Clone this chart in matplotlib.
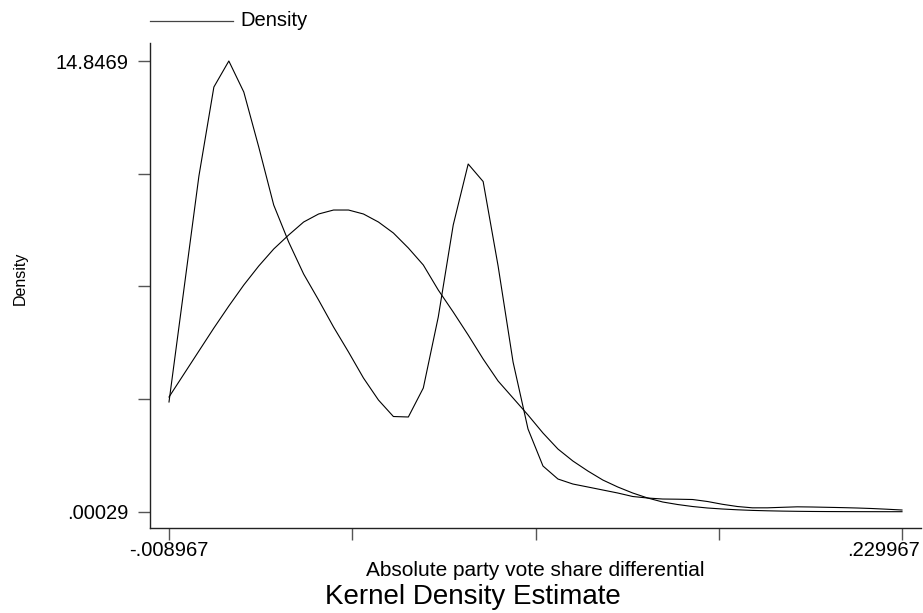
import numpy as np
import matplotlib
matplotlib.use("Agg")
import matplotlib.pyplot as plt
import matplotlib.transforms as mtransforms
from matplotlib.lines import Line2D

plt.rcParams['font.family'] = ['Liberation Sans', 'DejaVu Sans']

# kdensity evaluation grid (50 points)
x_grid = [-0.008967, -0.004091, 0.000785, 0.005662, 0.010538, 0.015414, 0.020290,
          0.025166, 0.030043, 0.034919, 0.039795, 0.044671, 0.049547, 0.054424,
          0.059300, 0.064176, 0.069052, 0.073928, 0.078805, 0.083681, 0.088557,
          0.093433, 0.098309, 0.103186, 0.108062, 0.112938, 0.117814, 0.122690,
          0.127567, 0.132443, 0.137319, 0.142195, 0.147071, 0.151948, 0.156824,
          0.161700, 0.166576, 0.171452, 0.176329, 0.181205, 0.186081, 0.190957,
          0.195833, 0.200710, 0.205586, 0.210462, 0.215338, 0.220214, 0.225091,
          0.229967]

# kernel density estimate
kdens = [3.614, 7.336, 11.058, 13.990, 14.8469, 13.825, 12.013, 10.103, 8.884, 7.830,
         6.974, 6.084, 5.261, 4.404, 3.680, 3.136, 3.120, 4.075, 6.414, 9.444,
         11.454, 10.877, 8.094, 4.931, 2.724, 1.505, 1.077, 0.912, 0.814, 0.715,
         0.616, 0.501, 0.451, 0.418, 0.412, 0.402, 0.336, 0.244, 0.171, 0.128,
         0.128, 0.145, 0.161, 0.155, 0.145, 0.135, 0.122, 0.105, 0.082, 0.056]

# normal density overlay
ndens = [3.778, 4.536, 5.294, 6.051, 6.776, 7.468, 8.094, 8.654, 9.115, 9.543,
         9.807, 9.938, 9.938, 9.807, 9.543, 9.181, 8.687, 8.127, 7.303, 6.578,
         5.821, 5.030, 4.305, 3.745, 3.185, 2.592, 2.065, 1.670, 1.341, 1.044,
         0.814, 0.616, 0.451, 0.320, 0.237, 0.171, 0.122, 0.089, 0.063, 0.043,
         0.030, 0.020, 0.013, 0.008, 0.005, 0.003, 0.002, 0.001, 0.0006, 0.00029]

xlab_vals = [-0.008967, 0.229967]
xlab_text = ["-.008967", ".229967"]
ylab_vals = [0.00029, 14.8469]
ylab_text = [".00029", "14.8469"]

W, H = 923, 613
fig = plt.figure(figsize=(W / 100, H / 100), dpi=100)
ax = fig.add_axes([150 / W, 1 - 528 / H, (921 - 150) / W, (528 - 43) / H])

ax.plot(x_grid, kdens, color='black', lw=0.8)
ax.plot(x_grid, ndens, color='black', lw=0.8)

ax.set_xlim(-0.015160, 0.236160)
ax.set_ylim(-0.5366, 15.440)

for s in ['top', 'right']:
    ax.spines[s].set_visible(False)
for s in ['left', 'bottom']:
    ax.spines[s].set_linewidth(1.0)
    ax.spines[s].set_color('#222222')

xt = np.linspace(xlab_vals[0], xlab_vals[1], 5)
yt = np.linspace(ylab_vals[0], ylab_vals[1], 5)
ax.set_xticks(xt)
ax.set_xticklabels([xlab_text[0], '', '', '', xlab_text[1]])
ax.set_yticks(yt)
ax.set_yticklabels([ylab_text[0], '', '', '', ylab_text[1]])
ax.tick_params(axis='both', length=8.6, width=1.0, color='#555555',
               labelsize=14.5, direction='out')
ax.tick_params(axis='y', pad=7)
ax.tick_params(axis='x', pad=1)

# keep the last x label inside the figure
last = ax.get_xticklabels()[-1]
last.set_ha('right')
last.set_transform(last.get_transform() +
                   mtransforms.ScaledTranslation(18 / 100, 0, fig.dpi_scale_trans))

# axis titles
fig.text(535.5 / W, 1 - 576 / H, "Absolute party vote share differential",
         ha='center', va='baseline', fontsize=15)
fig.text(20 / W, 1 - 278 / H, "Density", rotation=90, ha='center', va='center',
         fontsize=11.5)
fig.text(473 / W, 1 - 604 / H, "Kernel Density Estimate",
         ha='center', va='baseline', fontsize=20)

# legend key
fig.add_artist(Line2D([150 / W, 233 / W], [1 - 21 / H, 1 - 21 / H],
                      transform=fig.transFigure, color='#444444', lw=0.9))
fig.text(240 / W, 1 - 20 / H, "Density", ha='left', va='center', fontsize=14.5)

fig.savefig("out.png", dpi=100)
